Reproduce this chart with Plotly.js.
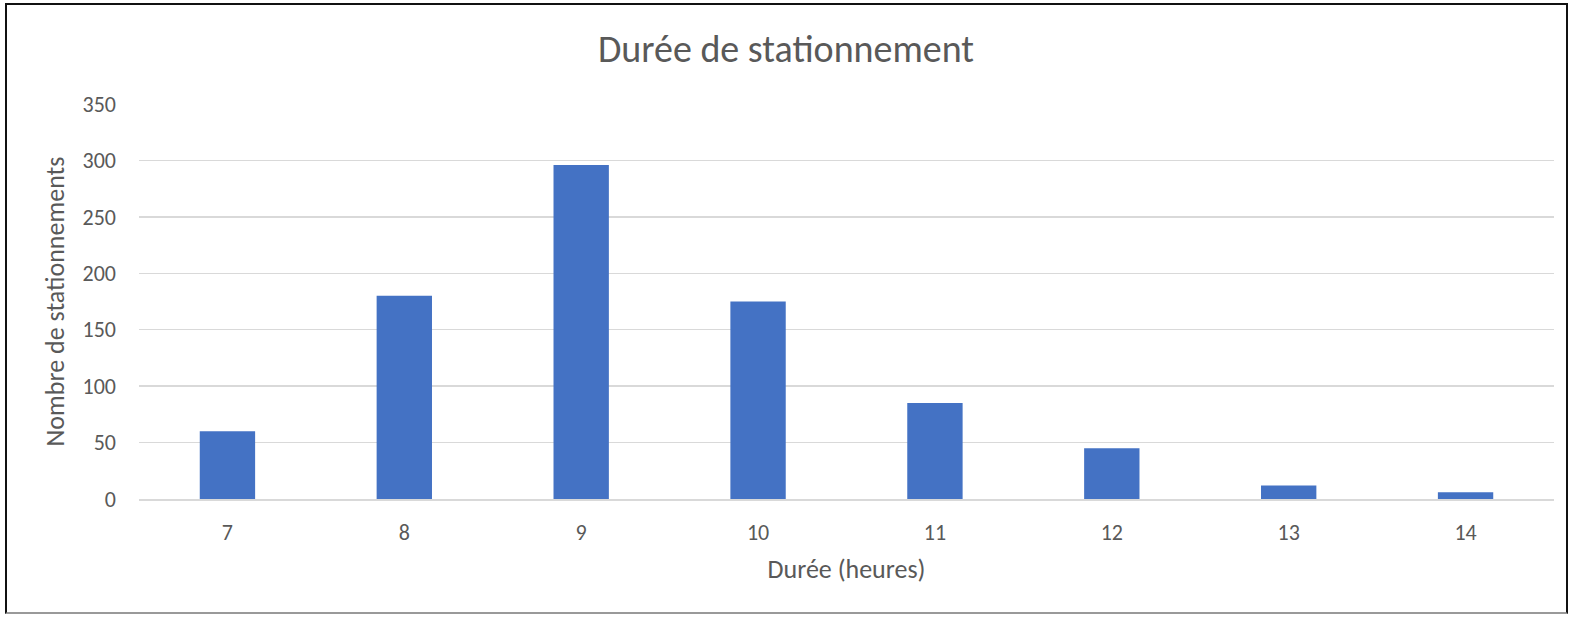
<!DOCTYPE html>
<html lang="fr">
<head>
  <meta charset="UTF-8">
  <title>Durée de stationnement</title>
  <script src="https://cdn.plot.ly/plotly-3.0.1.min.js"></script>
  <style>
    body { margin: 0; background: #fff; }
    #frame {
      position: absolute; left: 5px; top: 3px;
      width: 1563px; height: 611px;
      border: 2px solid #111; border-bottom-color: #999;
      box-sizing: border-box;
    }
    #chart { position: absolute; left: 0; top: 0; width: 1572px; height: 618px; }
  </style>
</head>
<body>
  <div id="frame"></div>
  <div id="chart"></div>
  <script>
    // durée en heures et nombre de stationnements
    const durees = [7, 8, 9, 10, 11, 12, 13, 14];
    const nombres = [60, 180, 296, 175, 85, 45, 12, 6];
    const yTicks = [0, 50, 100, 150, 200, 250, 300, 350];

    const police = 'Carlito, Calibri, Lato, sans-serif';
    const gris = '#595959';

    const trace = {
      type: 'bar',
      x: durees,
      y: nombres,
      marker: { color: '#4472C4' },
      hoverinfo: 'x+y'
    };

    const layout = {
      width: 1572,
      height: 618,
      paper_bgcolor: 'rgba(0,0,0,0)',
      plot_bgcolor: 'rgba(0,0,0,0)',
      margin: { l: 139, r: 18, t: 104, b: 119 },
      bargap: 0.687,
      showlegend: false,
      font: { family: police, color: gris, size: 22 },
      title: {
        text: 'Durée de stationnement',
        font: { family: police, size: 38, color: gris },
        x: 0.5, xanchor: 'center',
        y: 0.922, yanchor: 'middle'
      },
      xaxis: {
        range: [6.5, 14.5],
        tickvals: durees,
        ticktext: durees.map(String),
        showgrid: false,
        zeroline: false,
        showline: true,
        linecolor: '#d9d9d9',
        linewidth: 1.5,
        ticks: '',
        ticklabelstandoff: 13,
        tickfont: { size: 22, color: gris },
        title: { text: 'Durée (heures)', font: { size: 26, color: gris }, standoff: 15 }
      },
      yaxis: {
        range: [0, 350],
        tickvals: yTicks,
        showgrid: true,
        gridcolor: '#d9d9d9',
        gridwidth: 1.5,
        zeroline: false,
        showline: false,
        ticks: '',
        ticklabelstandoff: 22,
        tickfont: { size: 22, color: gris },
        title: { text: 'Nombre de stationnements', font: { size: 26, color: gris }, standoff: 10 }
      }
    };

    Plotly.newPlot('chart', [trace], layout, { displayModeBar: false, staticPlot: true });
  </script>
</body>
</html>
